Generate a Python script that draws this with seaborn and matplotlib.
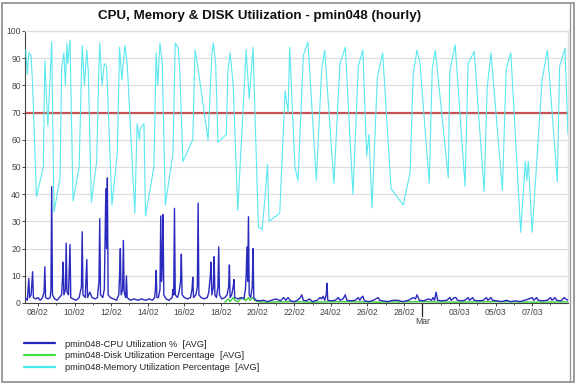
import matplotlib
matplotlib.use("Agg")
import matplotlib.pyplot as plt
import matplotlib.dates as mdates
import matplotlib.lines as mlines
import matplotlib.patches as mpatches
import seaborn as sns
import pandas as pd

sns.set_theme(style="white")
plt.rcParams["font.family"] = ["Liberation Sans", "DejaVu Sans"]

# ---------------- data ----------------
BASE = "2011-02-08 00:00"   # hours below are offsets from this timestamp

mem_hours = [-16, -14, -12, -9, -7, -2, 7, 9, 13, 18, 21, 29, 31, 34, 36, 38, 39, 42, 46,
             54, 57, 58, 61, 64, 66, 70, 77, 80, 81, 84, 87, 90, 97, 104, 107, 110, 114, 117,
             127, 130, 133, 134, 139, 141, 152, 155, 157, 160, 163, 167, 177, 180, 184, 186,
             190, 203, 206, 209, 223, 228, 230, 233, 236, 247, 249, 252, 256, 262, 273, 277,
             282, 289, 294, 298, 301, 303, 317, 324, 328, 330, 337, 341, 348, 354, 365, 372,
             376, 388, 396, 403, 413, 420, 426, 431, 434, 438, 445, 452, 463, 479, 488, 492,
             497, 501, 513, 517, 521, 538, 540, 547, 560, 564, 572, 585, 589, 594, 609, 614,
             620, 633, 639, 641, 643, 648, 661, 668, 681, 684, 691, 695]
mem_values = [93, 84, 92, 91, 80, 39, 50, 89, 65, 96, 33.5, 46, 86, 92, 80, 95.6, 88, 96.7, 37.5,
              50, 85, 94.7, 80, 93, 85, 37, 52, 88, 95.6, 80, 88, 87, 36, 55, 94, 82, 94.7, 88,
              33, 66, 60, 64, 66, 32, 50, 92, 80, 95.6, 88, 36, 55, 95.6, 93.8, 85,
              52, 60, 93, 88, 60, 91.4, 95.6, 88, 59, 62, 85, 92, 80, 34, 93, 75,
              94, 28, 27, 40, 51, 30, 33, 78, 70, 94, 50, 45, 91, 96, 45, 86,
              93, 44, 88, 94, 40, 87, 93, 54, 62, 35, 83, 92, 42, 36, 48, 84,
              93, 88, 44, 86, 93, 46, 85, 95, 43, 88, 92.5, 41, 79, 92, 41.5, 86,
              92, 26, 52, 45, 52, 26, 82, 93, 44.5, 87, 93.6, 62]

cpu_hours = [-17, -14, -12, -11, -9, -7, -6, -3, 0, 3, 6, 8, 9, 10, 13, 16, 17, 18, 19, 22, 25,
             28, 31, 32, 33, 34, 36, 37, 38, 40, 42, 43, 46, 50, 54, 57, 58, 59, 62, 64, 65, 68,
             71, 75, 78, 80, 81, 82, 85, 87, 89, 90, 91, 92, 95, 99, 103, 106, 107, 108, 109,
             111, 112, 113, 115, 116, 117, 121, 126, 131, 136, 141, 146, 150, 153, 154, 155,
             156, 158, 160, 161, 162, 163, 164, 165, 168, 172, 176, 177, 178, 179, 180, 183,
             185, 187, 188, 189, 192, 196, 200, 202, 203, 204, 207, 209, 210, 211, 214, 218,
             222, 224, 226, 227, 228, 230, 231, 232, 234, 236, 237, 238, 241, 245, 248, 250,
             251, 252, 254, 256, 257, 258, 262, 266, 270, 272, 273, 274, 275, 276, 277, 279,
             281, 282, 283, 286, 290, 296, 301, 306, 312, 318, 322, 325, 328, 331, 336, 340,
             344, 346, 348, 352, 356, 360, 366, 370, 372, 374, 376, 378, 379, 380, 384, 390,
             394, 396, 400, 403, 405, 410, 416, 420, 422, 424, 426, 428, 434, 440, 446, 448,
             452, 458, 466, 472, 478, 486, 492, 495, 497, 500, 506, 512, 516, 518, 520, 522,
             524, 530, 536, 540, 542, 546, 548, 550, 556, 560, 564, 566, 570, 572, 578, 584,
             588, 590, 594, 596, 602, 608, 614, 620, 626, 632, 638, 644, 648, 650, 654, 656,
             662, 668, 672, 674, 678, 680, 686, 690, 692, 695]
cpu_values = [2, 1, 9, 2, 3, 11.5, 2, 1.5, 2, 1, 2, 4, 13.3, 2, 1.5, 2, 5, 42.8, 3, 1.5, 1,
              2, 3, 8, 15, 3, 5, 22, 4, 3, 21.5, 2, 1.5, 1, 2, 6, 26.2, 3, 2, 16, 2, 4,
              2, 1.5, 2, 8, 31, 3, 2, 5, 42, 20, 46, 3, 2, 1.5, 1, 3, 10, 20, 3,
              5, 23, 4, 2, 10, 2, 1, 1.5, 1, 1.5, 1, 1.5, 1, 2, 5, 12,
              2, 2, 5, 32, 8, 15, 32.5, 3, 1.5, 1, 2, 5, 3, 34.8, 3, 2,
              4, 8, 18, 3, 2, 1.5, 2, 5, 9.5, 2, 3, 6, 36.7, 3, 2, 1.5,
              2, 4, 10, 15, 3, 6, 17, 3, 2, 6, 20.6, 3, 1.5, 2, 3, 6,
              14, 2, 3, 6, 8.6, 2, 1.5, 2, 1.5, 5, 10, 20.6, 8, 31.7, 3, 2,
              6, 20, 2, 1, 0.8, 1, 0.5, 1, 1.5, 0.8, 2, 1, 2, 0.8, 0.5, 1,
              2, 3, 1, 0.8, 1.5, 0.5, 1, 2, 1.5, 2.5, 1, 3, 7.2, 1, 0.8, 1,
              2, 1, 1.5, 3, 1, 0.8, 1, 2, 1, 2, 2.5, 0.8, 0.5, 1, 2, 1,
              0.8, 0.5, 1, 1, 0.5, 1, 2, 1.5, 3, 1, 0.8, 1.5, 1, 2, 1, 4,
              1, 0.8, 1, 2, 1, 2, 2, 1, 0.8, 1, 2, 1, 2, 1, 0.8, 1,
              2, 1, 2, 1, 0.8, 0.5, 1, 0.5, 0.8, 0.5, 1, 1.5, 2, 1, 2, 1,
              0.8, 1, 2, 1, 2, 1, 0.8, 2, 1.5, 1]

disk_hours = [245, 250, 252, 256, 258, 262, 266, 270, 272, 276, 278, 282, 284, 288, 300, 330,
              360, 400, 450, 500, 550, 600, 650, 695]
disk_values = [0.3, 1.5, 0.5, 2, 1, 0.5, 1.5, 2, 0.8, 2, 1, 2, 1, 0.5, 0.3, 0.5,
               0.3, 0.5, 0.3, 0.5, 0.3, 0.5, 0.3, 0.4]

threshold = 70
y_ticks = list(range(0, 101, 10))
x_label_dates = ["2011-02-08", "2011-02-10", "2011-02-12", "2011-02-14", "2011-02-16",
                 "2011-02-18", "2011-02-20", "2011-02-22", "2011-02-24", "2011-02-26",
                 "2011-02-28", "2011-03-03", "2011-03-05", "2011-03-07"]
month_mark_date = "2011-03-01"
month_mark_label = "Mar"
x_range_hours = [-17, 695]

title = "CPU, Memory & DISK Utilization - pmin048 (hourly)"
series_names = ["pmin048-CPU Utilization %  [AVG]",
                "pmin048-Disk Utilization Percentage  [AVG]",
                "pmin048-Memory Utilization Percentage  [AVG]"]

# ---------------- build frames ----------------
base = pd.Timestamp(BASE)


def frame(hours, values, name):
    return pd.DataFrame({"time": base + pd.to_timedelta(hours, unit="h"),
                         "value": values, "series": name})


df_cpu = frame(cpu_hours, cpu_values, series_names[0])
df_disk = frame(disk_hours, disk_values, series_names[1])
df_mem = frame(mem_hours, mem_values, series_names[2])

col_cpu = "#2a2abf"
col_disk = "#3fcf3f"
col_mem = "#5ae8f0"
col_red = "#c65454"

# ---------------- figure ----------------
W, H = 579, 385
fig = plt.figure(figsize=(W / 100, H / 100), dpi=100)
fig.patch.set_facecolor("white")
ax = fig.add_axes([25 / W, 1 - 303 / H, (568 - 25) / W, (303 - 31) / H])
ax.set_facecolor("white")

ax.axhline(threshold, color=col_red, lw=1.6, zorder=2)
sns.lineplot(data=df_mem, x="time", y="value", color=col_mem, lw=0.8, ax=ax,
             estimator=None, sort=False, legend=False, zorder=3)
sns.lineplot(data=df_disk, x="time", y="value", color=col_disk, lw=1.0, ax=ax,
             estimator=None, sort=False, legend=False, zorder=4)
sns.lineplot(data=df_cpu, x="time", y="value", color=col_cpu, lw=1.0, ax=ax,
             estimator=None, sort=False, legend=False, zorder=5)

ax.set_ylim(0, 100)
ax.set_xlim(base + pd.Timedelta(hours=x_range_hours[0]), base + pd.Timedelta(hours=x_range_hours[1]))
ax.set_xlabel("")
ax.set_ylabel("")

ax.set_yticks(y_ticks)
ax.yaxis.grid(True, color="#dddddd", lw=0.9)
ax.xaxis.grid(False)
ax.set_axisbelow(True)

ticks = pd.to_datetime(x_label_dates)
ax.set_xticks(ticks)
ax.set_xticklabels([t.strftime("%d/%m") for t in ticks])
ax.xaxis.set_minor_locator(mdates.DayLocator())

ax.tick_params(axis="both", which="major", labelsize=6.2, colors="#444444",
               length=2.2, width=0.7, pad=1.2, direction="out")
ax.tick_params(axis="x", which="minor", length=1.5, width=0.6, color="#444444",
               bottom=True)
ax.tick_params(axis="y", left=True, pad=0.8)
ax.tick_params(axis="x", bottom=True)

for s in ["left", "bottom"]:
    ax.spines[s].set_color("#444444")
    ax.spines[s].set_linewidth(0.8)
for s in ["top", "right"]:
    ax.spines[s].set_color("#dddddd")
    ax.spines[s].set_linewidth(0.9)

# month marker below the axis
mdate = pd.Timestamp(month_mark_date)
trans = ax.get_xaxis_transform()
ax.plot([mdate, mdate], [0, -13 / 272], transform=trans, color="#222222", lw=0.9,
        clip_on=False)
ax.text(mdate, -19 / 272, month_mark_label, transform=trans, ha="center", va="center",
        fontsize=6.2, color="#444444")

# title
fig.text(260 / W, 1 - 16 / H, title, ha="center", va="center", fontsize=9.6,
         fontweight="bold", color="#111111")

# legend
handles = [mlines.Line2D([], [], color=c, lw=1.6) for c in ["#2424c0", "#44dd44", "#44eaf0"]]
fig.legend(handles, series_names, loc="upper left", bbox_to_anchor=(19 / W, 1 - 335 / H),
           frameon=False, fontsize=6.7, handlelength=3.4, handletextpad=1.0,
           labelspacing=0.28, borderpad=0, labelcolor="#222222")

# outer frame
fig.add_artist(mpatches.Rectangle((2 / W, 3 / H), (574 - 2) / W, (382 - 3) / H,
                                  transform=fig.transFigure, fill=False,
                                  edgecolor="#8a8a8a", lw=1.2))
fig.add_artist(mlines.Line2D([570 / W, 570 / W], [3 / H, 382 / H], transform=fig.transFigure,
                             color="#9a9a9a", lw=1.0))

fig.savefig("out.png", dpi=100)
